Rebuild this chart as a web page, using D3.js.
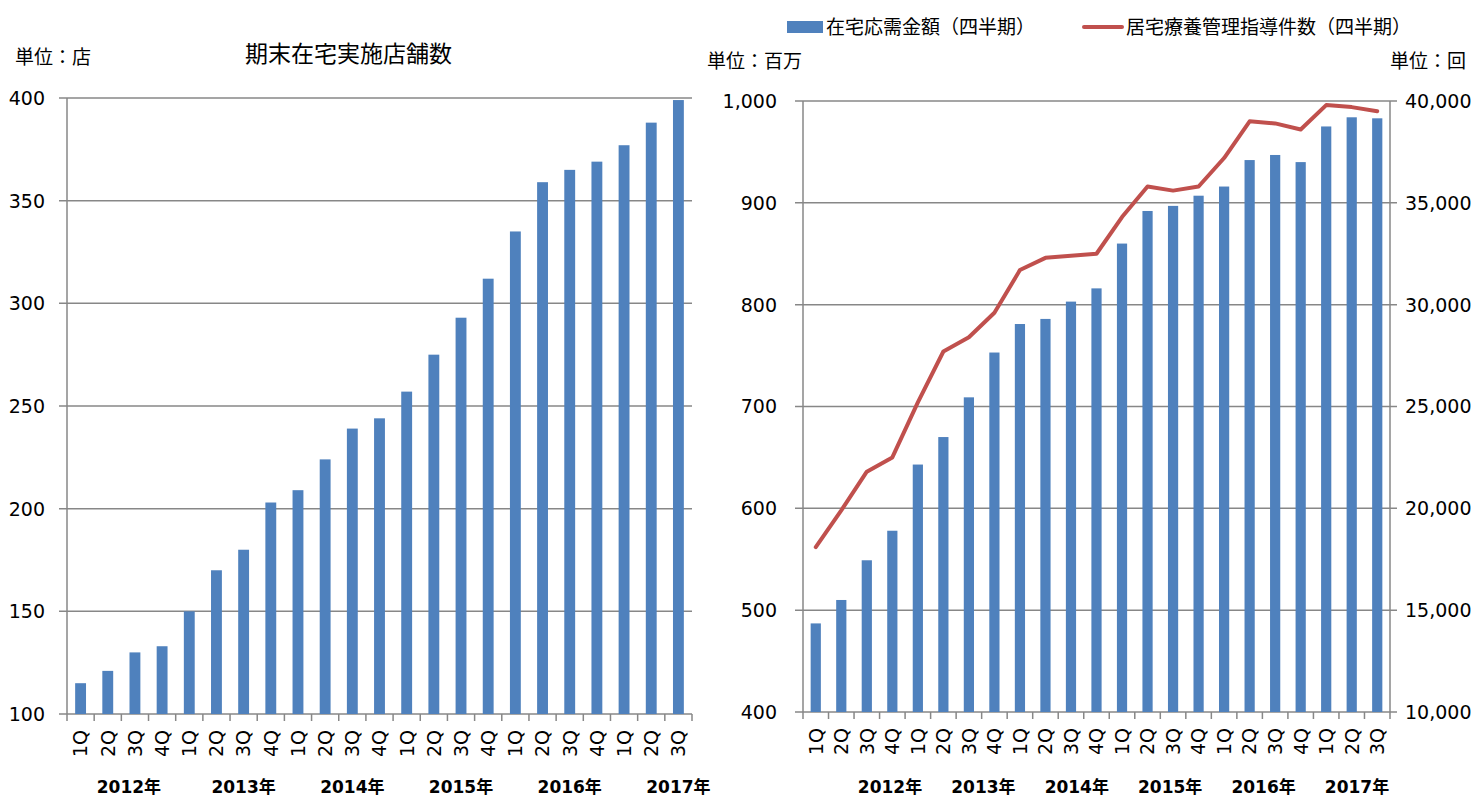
<!DOCTYPE html>
<html>
<head>
<meta charset="utf-8">
<script src="https://cdn.jsdelivr.net/npm/d3@7"></script>
<style>
  body { margin: 0; background: #fff; }
  text { font-family: "DejaVu Sans", "Noto Sans CJK JP", sans-serif; fill: #000; }
  .jp { font-family: "Noto Sans CJK JP", "DejaVu Sans", sans-serif; }
</style>
</head>
<body>
<div id="chart"></div>
<script>
// periods 2012 1Q .. 2017 3Q
var years = ["2012年", "2013年", "2014年", "2015年", "2016年", "2017年"];
var periods = ["2012-1Q","2012-2Q","2012-3Q","2012-4Q",
               "2013-1Q","2013-2Q","2013-3Q","2013-4Q",
               "2014-1Q","2014-2Q","2014-3Q","2014-4Q",
               "2015-1Q","2015-2Q","2015-3Q","2015-4Q",
               "2016-1Q","2016-2Q","2016-3Q","2016-4Q",
               "2017-1Q","2017-2Q","2017-3Q"];

// 期末在宅実施店舗数 (店)
var storeCounts = [115, 121, 130, 133, 150, 170, 180, 203, 209, 224, 239, 244,
                   257, 275, 293, 312, 335, 359, 365, 369, 377, 388, 399];
// 在宅応需金額 (百万)
var demandAmount = [487, 510, 549, 578, 643, 670, 709, 753, 781, 786, 803, 816,
                    860, 892, 897, 907, 916, 942, 947, 940, 975, 984, 983];
// 居宅療養管理指導件数 (回)
var guidanceCount = [18100, 19900, 21800, 22500, 25200, 27700, 28400, 29600,
                     31700, 32300, 32400, 32500, 34300, 35800, 35600, 35800,
                     37200, 39000, 38900, 38600, 39800, 39700, 39500];

var storeTicks = [100, 150, 200, 250, 300, 350, 400];
var amountTicks = [400, 500, 600, 700, 800, 900, 1000];
var countTicks = [10000, 15000, 20000, 25000, 30000, 35000, 40000];

var barColor = "#4F81BD", lineColor = "#C0504D", axisColor = "#878787";
var fmt = d3.format(",");

var svg = d3.select("#chart")
  .append("svg")
    .attr("width", 1480)
    .attr("height", 798);

function quarterOf(p) { return p.split("-")[1]; }

// draws the frame shared by both panels
function drawFrame(g, x, y, ticks, w, h, opts) {
  // grid
  g.selectAll(".grid")
    .data(ticks)
    .enter().append("line")
      .attr("x1", -8).attr("x2", opts.rightAxis ? w + 7 : w)
      .attr("y1", function(d) { return y(d); })
      .attr("y2", function(d) { return y(d); })
      .attr("stroke", axisColor).attr("stroke-width", 1.5);

  g.append("line").attr("x1", 0).attr("x2", 0).attr("y1", 0).attr("y2", h)
    .attr("stroke", axisColor).attr("stroke-width", 1.5);
  if (opts.rightAxis) {
    g.append("line").attr("x1", w).attr("x2", w).attr("y1", 0).attr("y2", h)
      .attr("stroke", axisColor).attr("stroke-width", 1.5);
  }

  g.selectAll(".ylab")
    .data(ticks)
    .enter().append("text")
      .attr("x", -opts.labelGap)
      .attr("y", function(d) { return y(d); })
      .attr("dy", "0.36em")
      .attr("text-anchor", "end")
      .style("font-size", "19px")
      .text(function(d) { return opts.format(d); });

  // category tick marks between bars
  var bounds = periods.map(function(p) { return x(p) - x.step() * x.paddingOuter(); });
  bounds.push(w);
  g.selectAll(".xtick")
    .data(bounds)
    .enter().append("line")
      .attr("x1", function(d) { return d; }).attr("x2", function(d) { return d; })
      .attr("y1", h).attr("y2", h + 7)
      .attr("stroke", axisColor).attr("stroke-width", 1.5);

  g.selectAll(".qlab")
    .data(periods)
    .enter().append("text")
      .attr("transform", function(d) {
        return "translate(" + (x(d) + x.bandwidth() / 2) + "," + (h + 16) + ")rotate(-90)";
      })
      .attr("dy", "0.36em")
      .attr("text-anchor", "end")
      .style("font-size", "19px")
      .text(quarterOf);
}

// ---------- left panel ----------
var L = {left: 67, top: 98, width: 625, height: 616};
var gl = svg.append("g").attr("transform", "translate(" + L.left + "," + L.top + ")");

var xl = d3.scaleBand().domain(periods).range([0, L.width]).paddingInner(0.6).paddingOuter(0.3);
var yl = d3.scaleLinear().domain([100, 400]).range([L.height, 0]);

drawFrame(gl, xl, yl, storeTicks, L.width, L.height,
  {labelGap: 22, format: function(d) { return d; }, rightAxis: false});

gl.selectAll(".bar")
  .data(storeCounts)
  .enter().append("rect")
    .attr("x", function(d, i) { return xl(periods[i]); })
    .attr("y", function(d) { return yl(d); })
    .attr("width", xl.bandwidth())
    .attr("height", function(d) { return L.height - yl(d); })
    .attr("fill", barColor);

// year label sits under the 3Q bar of each year (last one under the final bar)
gl.selectAll(".year")
  .data(years)
  .enter().append("text")
    .attr("x", function(d, i) {
      return xl(periods[Math.min(i * 4 + 2, periods.length - 1)]) + xl.bandwidth() / 2 - (i == 0 ? 6 : 0);
    })
    .attr("y", 695)
    .attr("text-anchor", "middle")
    .style("font-size", "17px").style("font-weight", "bold")
    .text(function(d) { return d; });

svg.append("text").attr("class", "jp").attr("x", 15).attr("y", 64)
  .style("font-size", "19px").text("単位：店");
svg.append("text").attr("class", "jp").attr("x", 245).attr("y", 62)
  .style("font-size", "23px").text("期末在宅実施店舗数");

// ---------- right panel ----------
var R = {left: 803, top: 101, width: 587, height: 611};
var gr = svg.append("g").attr("transform", "translate(" + R.left + "," + R.top + ")");

var xr = d3.scaleBand().domain(periods).range([0, R.width]).paddingInner(0.6).paddingOuter(0.3);
var yr = d3.scaleLinear().domain([400, 1000]).range([R.height, 0]);
var yr2 = d3.scaleLinear().domain([10000, 40000]).range([R.height, 0]);

drawFrame(gr, xr, yr, amountTicks, R.width, R.height,
  {labelGap: 26, format: fmt, rightAxis: true});

gr.selectAll(".ylab2")
  .data(countTicks)
  .enter().append("text")
    .attr("x", R.width + 15)
    .attr("y", function(d) { return yr2(d); })
    .attr("dy", "0.36em")
    .style("font-size", "19px")
    .text(fmt);

gr.selectAll(".bar")
  .data(demandAmount)
  .enter().append("rect")
    .attr("x", function(d, i) { return xr(periods[i]); })
    .attr("y", function(d) { return yr(d); })
    .attr("width", xr.bandwidth())
    .attr("height", function(d) { return R.height - yr(d); })
    .attr("fill", barColor);

var line = d3.line()
  .x(function(d, i) { return xr(periods[i]) + xr.bandwidth() / 2; })
  .y(function(d) { return yr2(d); });

gr.append("path")
  .datum(guidanceCount)
  .attr("d", line)
  .attr("fill", "none")
  .attr("stroke", lineColor)
  .attr("stroke-width", 4)
  .attr("stroke-linejoin", "round")
  .attr("stroke-linecap", "round");

// year labels on the right are spread evenly, not per group
gr.selectAll(".year")
  .data(years)
  .enter().append("text")
    .attr("x", function(d, i) { return 87 + i * 93.4; })
    .attr("y", 692)
    .attr("text-anchor", "middle")
    .style("font-size", "17px").style("font-weight", "bold")
    .text(function(d) { return d; });

svg.append("text").attr("class", "jp").attr("x", 707).attr("y", 68)
  .style("font-size", "19px").text("単位：百万");
svg.append("text").attr("class", "jp").attr("x", 1390).attr("y", 68)
  .style("font-size", "19px").text("単位：回");

// legend
var lg = svg.append("g").attr("transform", "translate(787,27)");
lg.append("rect").attr("x", 0).attr("y", -6).attr("width", 36).attr("height", 12).attr("fill", barColor);
lg.append("text").attr("class", "jp").attr("x", 39).attr("y", 0).attr("dy", "0.36em")
  .style("font-size", "19px").text("在宅応需金額（四半期）");
lg.append("line").attr("x1", 297).attr("x2", 335).attr("y1", 0).attr("y2", 0)
  .attr("stroke", lineColor).attr("stroke-width", 4).attr("stroke-linecap", "round");
lg.append("text").attr("class", "jp").attr("x", 339).attr("y", 0).attr("dy", "0.36em")
  .style("font-size", "19px").text("居宅療養管理指導件数（四半期）");
</script>
</body>
</html>
